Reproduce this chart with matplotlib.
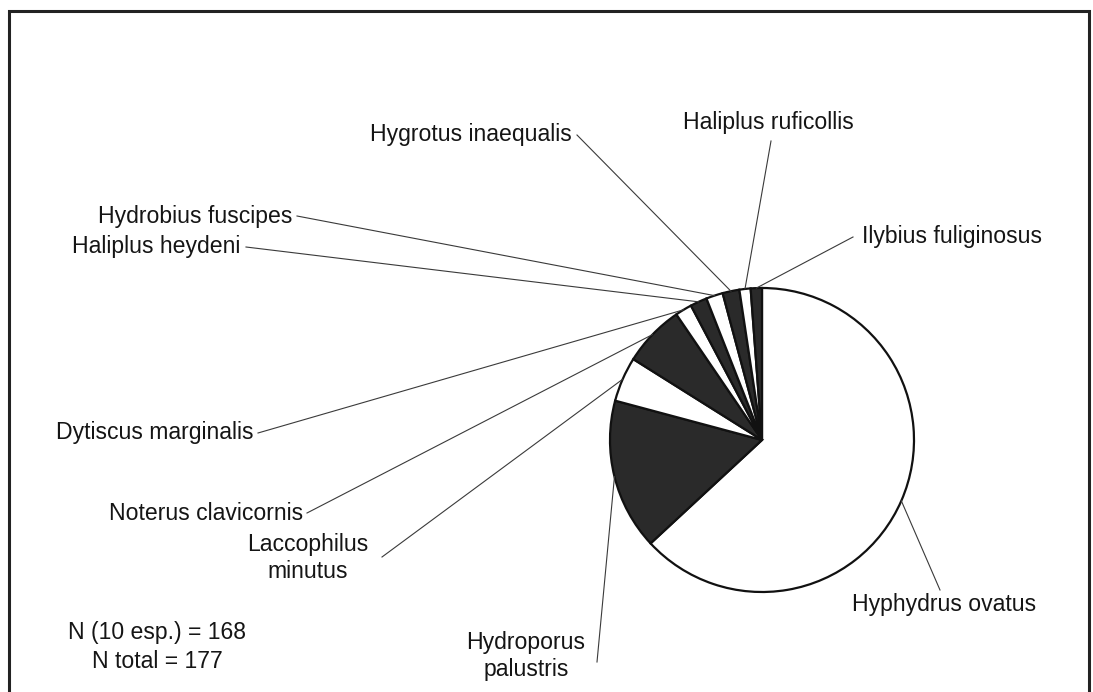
import numpy as np
import matplotlib
matplotlib.use("Agg")
import matplotlib.pyplot as plt
from matplotlib.patches import Rectangle

plt.rcParams['font.family'] = ['Liberation Sans', 'DejaVu Sans']

# Data (clockwise from 12 o'clock)
species = ["Hyphydrus ovatus", "Hydroporus\npalustris", "Laccophilus\nminutus",
           "Noterus clavicornis", "Dytiscus marginalis", "Haliplus heydeni",
           "Hydrobius fuscipes", "Hygrotus inaequalis", "Haliplus ruficollis",
           "Ilybius fuliginosus"]
counts = [106, 27, 8, 11, 3, 3, 3, 3, 2, 2]
slice_colors = ["white", "#2a2a2a", "white", "#2a2a2a", "white", "#2a2a2a",
                "white", "#2a2a2a", "white", "#2a2a2a"]
note_lines = ["N (10 esp.) = 168", "N total = 177"]

W, H = 1093, 692
fig = plt.figure(figsize=(W / 100, H / 100), dpi=100)
ax = fig.add_axes([0, 0, 1, 1])

def Y(y):
    return H - y

cx, cy, R = 762, 440, 152
ax.pie(counts, colors=slice_colors, startangle=90, counterclock=False,
       center=(cx, Y(cy)), radius=R,
       wedgeprops=dict(edgecolor="#111111", linewidth=1.6))
ax.set_xlim(0, W)
ax.set_ylim(0, H)
ax.set_aspect("equal")
ax.axis("off")

# frame
ax.add_patch(Rectangle((9, Y(700)), 1080, 700 - 11, fill=False,
                       edgecolor="#222222", linewidth=2.2, clip_on=False))

FS = 16.6
# label layout: (text x, text y, ha, line start x, line start y)
layout = {
    "Hyphydrus ovatus": (852, 605, "left", 940, 590),
    "Hydroporus\npalustris": (526, 656, "center", 597, 662),
    "Laccophilus\nminutus": (308, 558, "center", 382, 557),
    "Noterus clavicornis": (303, 513, "right", 307, 513),
    "Dytiscus marginalis": (254, 433, "right", 258, 433),
    "Haliplus heydeni": (240, 247, "right", 246, 247),
    "Hydrobius fuscipes": (292, 216, "right", 297, 216),
    "Hygrotus inaequalis": (572, 135, "right", 577, 135),
    "Haliplus ruficollis": (768, 123, "center", 771, 141),
    "Ilybius fuliginosus": (862, 236, "left", 853, 237),
}

total = sum(counts)
cum = np.cumsum([0] + counts)
for i, name in enumerate(species):
    mid = (cum[i] + cum[i + 1]) / 2 / total * 360.0  # clockwise from north
    a = np.deg2rad(mid)
    ex = cx + R * np.sin(a)
    ey = cy - R * np.cos(a)
    tx, ty, ha, lx, ly = layout[name]
    ax.plot([lx, ex], [Y(ly), Y(ey)], color="#3a3a3a", linewidth=0.8)
    ax.text(tx, Y(ty), name, ha=ha, va="center", fontsize=FS,
            color="#151515", linespacing=1.2)

ax.text(157, Y(632), note_lines[0], ha="center", va="center", fontsize=FS, color="#151515")
ax.text(157, Y(661), note_lines[1], ha="center", va="center", fontsize=FS, color="#151515")

fig.savefig("out.png", dpi=100, facecolor="white")
